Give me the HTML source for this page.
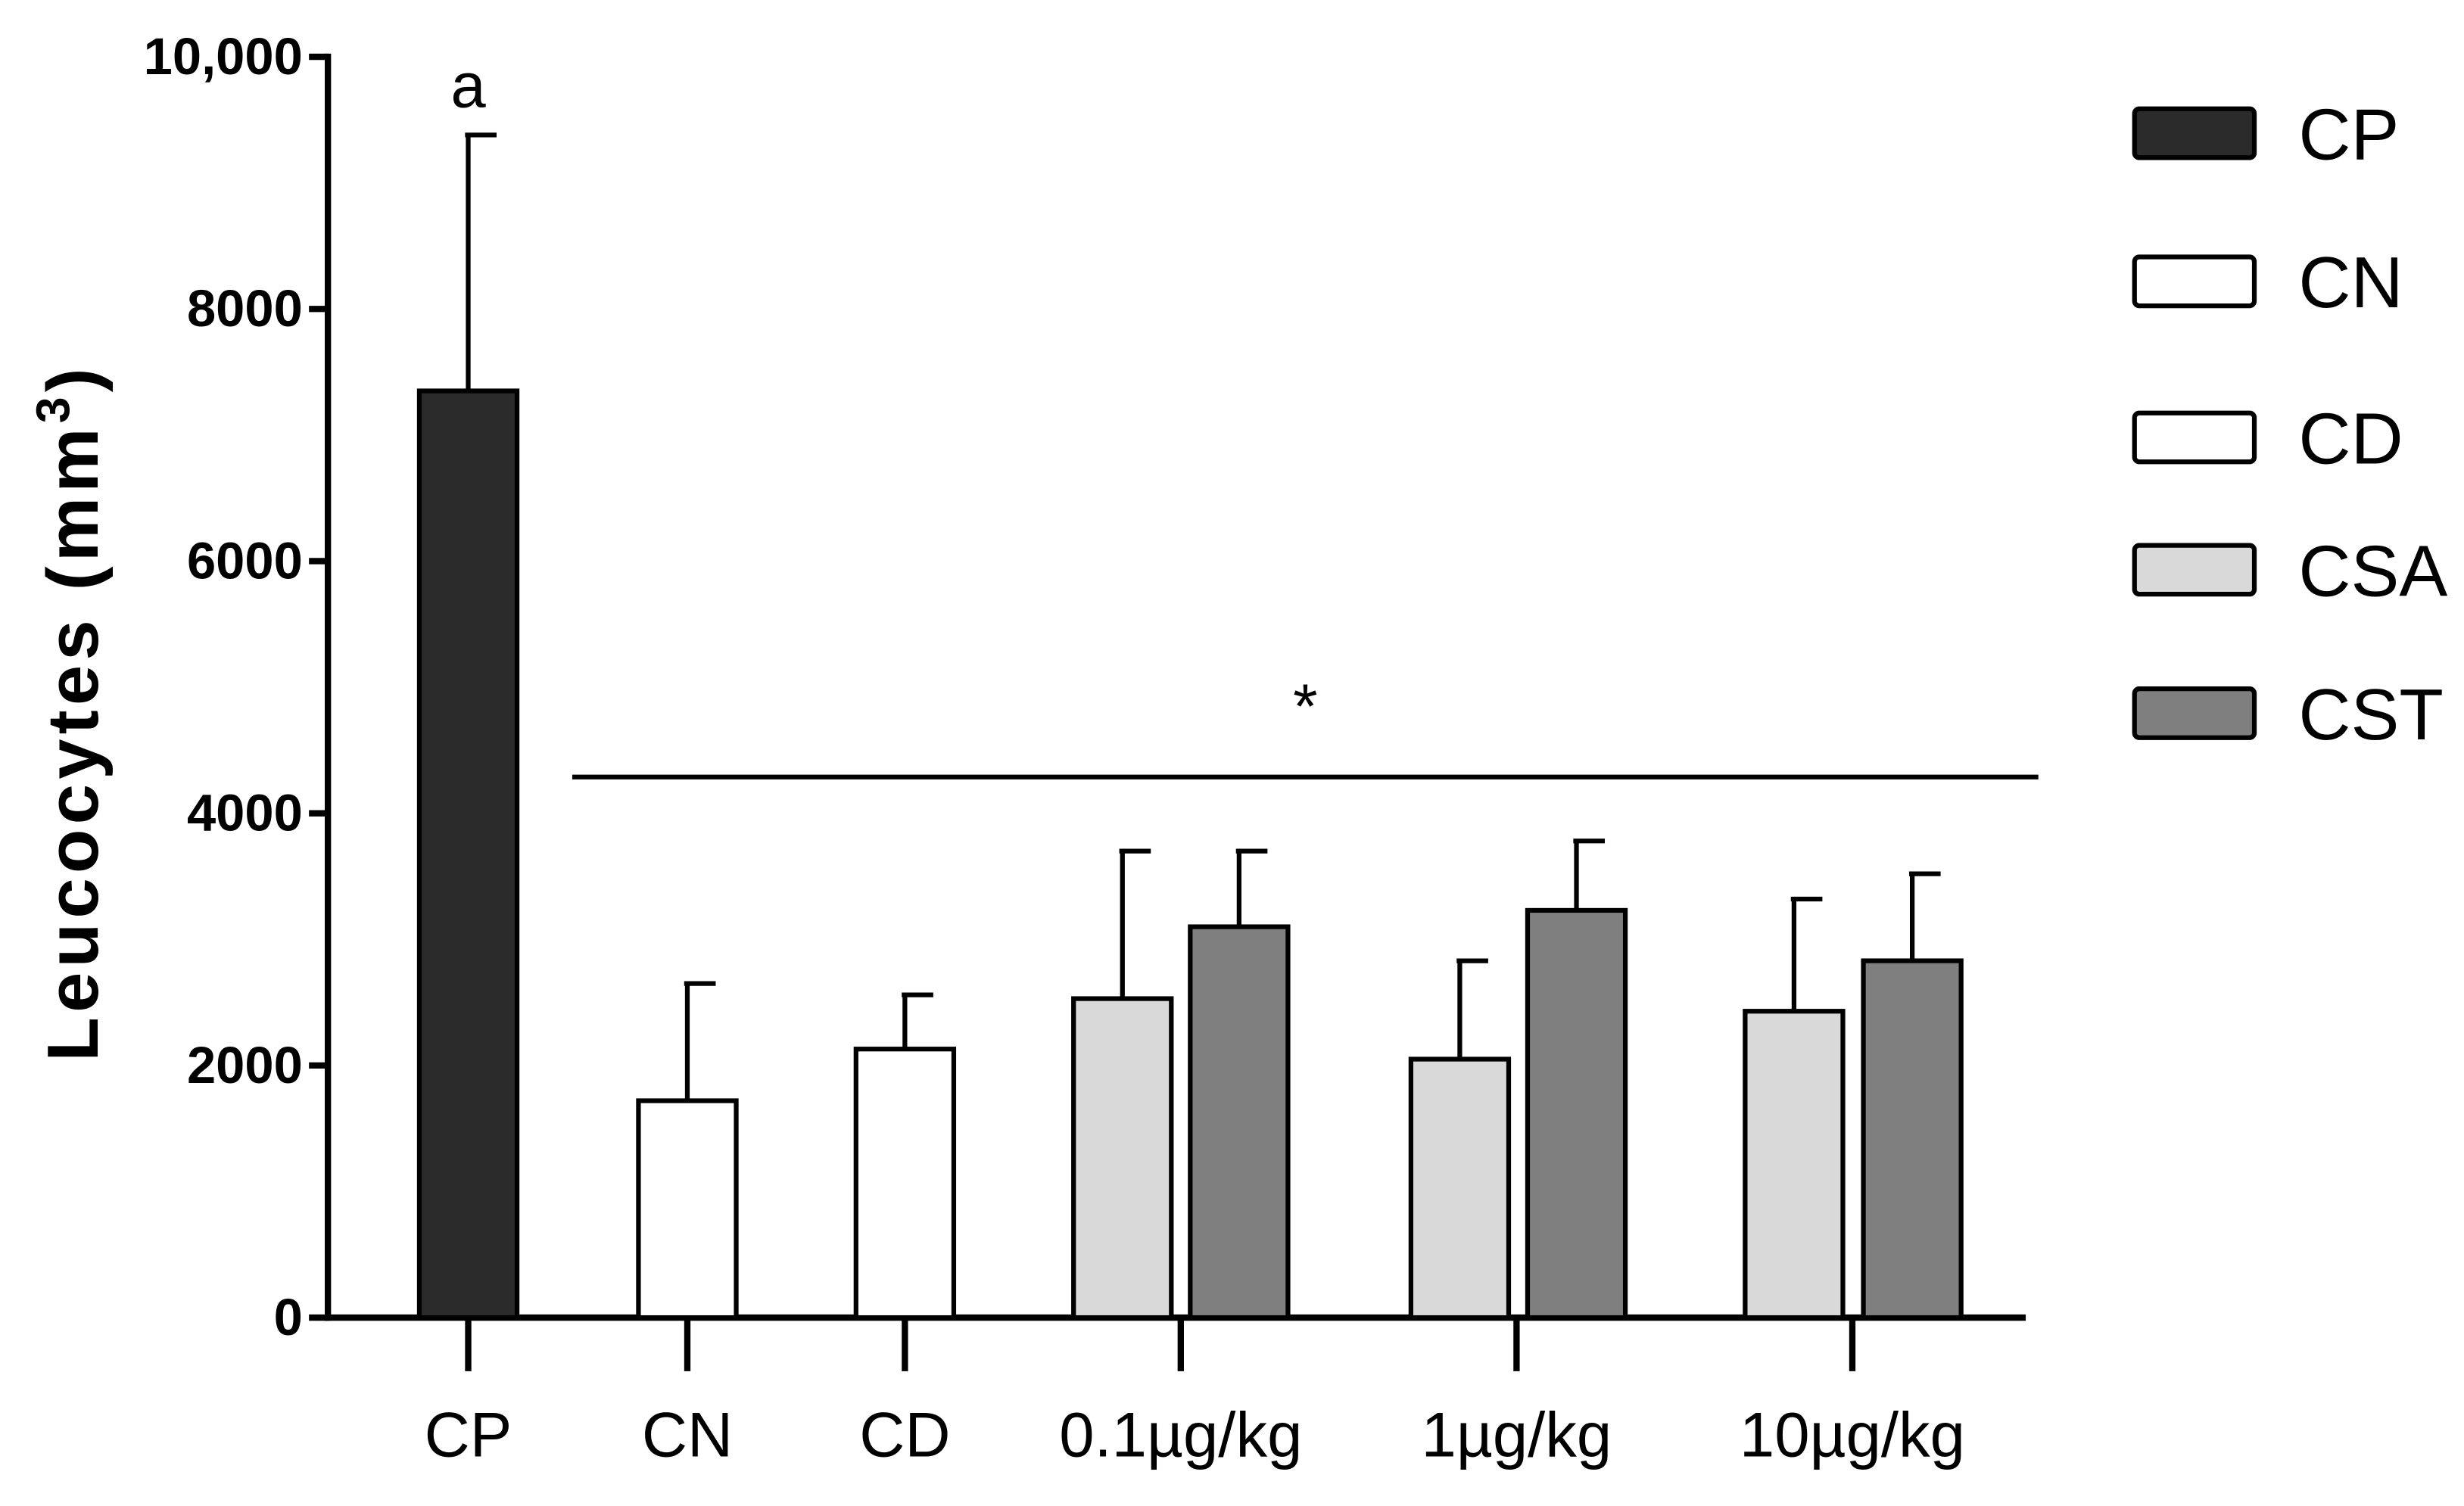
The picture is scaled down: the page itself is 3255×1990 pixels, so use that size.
<!DOCTYPE html>
<html><head><meta charset="utf-8"><style>html,body{margin:0;padding:0;background:#fff}svg{display:block}</style></head>
<body>
<svg id="chart" width="3255" height="1990" viewBox="0 0 1563 955.5" xmlns="http://www.w3.org/2000/svg" font-family="Liberation Sans, sans-serif">
<g id="axes"></g>
<g id="bars"></g>
<g id="legend"></g>
</svg>
<script>
const yTicks = [0, 2000, 4000, 6000, 8000, 10000];
const yTickLabels = ["0", "2000", "4000", "6000", "8000", "10,000"];
const groupLabels = ["CP", "CN", "CD", "0.1µg/kg", "1µg/kg", "10µg/kg"];
const barGroups = ["CP", "CN", "CD", "0.1", "0.1", "1", "1", "10", "10"];
const barSeries = ["CP", "CN", "CD", "CSA", "CST", "CSA", "CST", "CSA", "CST"];
const barValues = [7350, 1720, 2130, 2530, 3100, 2050, 3230, 2430, 2830];
const barErrors = [2030, 930, 430, 1170, 600, 780, 550, 890, 690];
const legendLabels = ["CP", "CN", "CD", "CSA", "CST"];

const NS = "http://www.w3.org/2000/svg";
const fills = {CP:"#2b2b2b", CN:"#ffffff", CD:"#ffffff", CSA:"#d9d9d9", CST:"#7f7f7f"};
const barLeft = [266, 405, 543, 681, 755, 895, 969, 1107, 1182];
const barW = 62;
const groupCenters = [297, 436, 574, 749, 962, 1175];
function y(v){ return 836 - v * 0.08; }
function mk(tag, attrs, parent){ const e=document.createElementNS(NS,tag); for(const k in attrs) e.setAttribute(k,attrs[k]); parent.appendChild(e); return e; }
const axes=document.getElementById('axes'), bars=document.getElementById('bars'), legend=document.getElementById('legend');

barValues.forEach((v,i)=>{
  const x=barLeft[i], cx=x+barW/2, top=y(v+barErrors[i]);
  const l=mk('line',{x1:cx,x2:cx,y1:y(v),y2:top,stroke:'#000','stroke-width':3},bars);
  
  
  const c=mk('line',{x1:cx-2,x2:cx+18,y1:top,y2:top,stroke:'#000','stroke-width':3},bars);
  
  
  const r=mk('rect',{x:x,y:y(v),width:barW,height:836-y(v),fill:fills[barSeries[i]],stroke:'#000','stroke-width':3},bars);
  
  
});

const ya=mk('line',{x1:208,x2:208,y1:34,y2:838,stroke:'#000','stroke-width':4},axes);


const xa=mk('line',{x1:206,x2:1285,y1:836,y2:836,stroke:'#000','stroke-width':4},axes);


yTicks.forEach((t,i)=>{
  const tk=mk('line',{x1:196,x2:208,y1:y(t),y2:y(t),stroke:'#000','stroke-width':4},axes);
  
  
  const tx=mk('text',{x:192,y:y(t)+11,'text-anchor':'end','font-size':33,'font-weight':'bold'},axes);
  tx.textContent=yTickLabels[i];
  
  
});
groupLabels.forEach((g,i)=>{
  const tk=mk('line',{x1:groupCenters[i],x2:groupCenters[i],y1:836,y2:870,stroke:'#000','stroke-width':4},axes);
  
  
  const tx=mk('text',{x:groupCenters[i],y:924,'text-anchor':'middle','font-size':40},axes);
  tx.textContent=g;
  
  
});
const yt=mk('text',{x:0,y:0,'text-anchor':'middle','font-size':46,'font-weight':'bold','letter-spacing':3,transform:'translate(62,452) rotate(-90)'},axes);
yt.innerHTML='Leucocytes (mm<tspan dy="-18" font-size="30">3</tspan><tspan dy="18">)</tspan>';


const sl=mk('line',{x1:363,x2:1293,y1:493,y2:493,stroke:'#000','stroke-width':3},axes);


const st=mk('text',{x:828,y:462,'text-anchor':'middle','font-size':40},axes);
st.textContent='*';


const at=mk('text',{x:297,y:68,'text-anchor':'middle','font-size':40},axes);
at.textContent='a';



const legY=[69,163,262,346,437];
legendLabels.forEach((s,i)=>{
  const r=mk('rect',{x:1354,y:legY[i],width:76,height:31,rx:3,fill:fills[s],stroke:'#000','stroke-width':3},legend);
  
  
  const t=mk('text',{x:1458,y:legY[i]+32,'font-size':46},legend);
  t.textContent=s;
  
  
});
</script>
</body></html>
